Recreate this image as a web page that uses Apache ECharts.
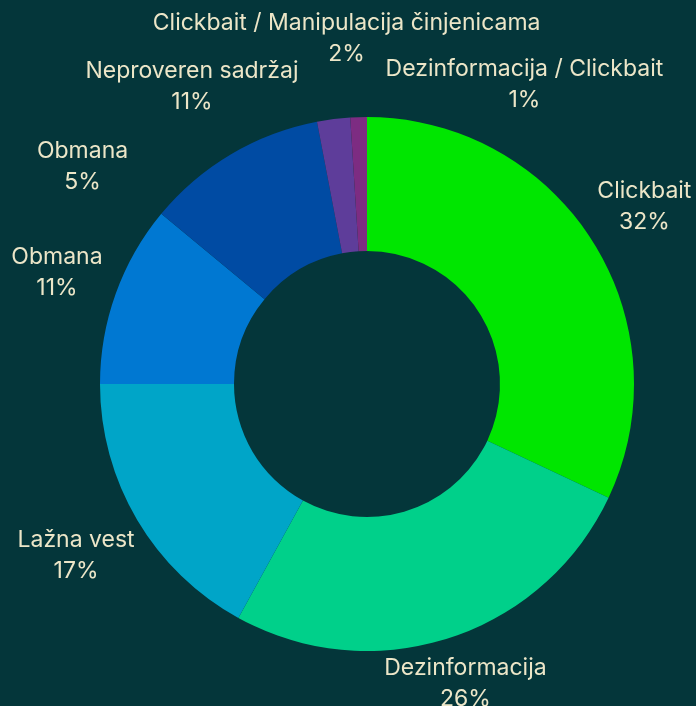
<!DOCTYPE html>
<html>
<head>
<meta charset="utf-8">
<script src="https://cdn.jsdelivr.net/npm/echarts@6/dist/echarts.min.js"></script>
<style>
  html, body { margin: 0; padding: 0; background: #04363a; }
  #chart { width: 696px; height: 706px; }
</style>
</head>
<body>
<div id="chart"></div>
<script>
// Categories, clockwise from 12 o'clock
const categories = [
  "Clickbait",
  "Dezinformacija",
  "Lažna vest",
  "Obmana",
  "Obmana",
  "Neproveren sadržaj",
  "Clickbait / Manipulacija činjenicama",
  "Dezinformacija / Clickbait",
];
// slice sizes (second "Obmana" has no visible slice in the source)
const values = [32, 26, 17, 11, 0, 11, 2, 1];
// percentages printed on the labels
const shownPercents = [32, 26, 17, 11, 5, 11, 2, 1];

const colors = [
  "#00e600", // Clickbait
  "#00d08a", // Dezinformacija
  "#00a5c8", // Lažna vest
  "#0078d2", // Obmana
  "#005fbd", // Obmana (empty)
  "#004ba3", // Neproveren sadržaj
  "#5e3d9a", // Clickbait / Manipulacija
  "#7d2c82", // Dezinformacija / Clickbait
];

// small nudges so labels don't collide
const labelOffsets = {
  0: [-8, 4],
  1: [-6, -22],
  3: [8, 3],
  4: [-24, -2],
  5: [-3, -6],
  6: [22, -10],
  7: [168, 38],
};

const center = [367, 384];

const chart = echarts.init(document.getElementById("chart"), null, { renderer: "canvas" });

const sliceData = categories.map((name, i) => ({
  name: name,
  value: values[i],
  itemStyle: { color: colors[i] },
}));

// invisible ring used only to place labels centred on each slice's mid angle
const labelData = categories.map((name, i) => ({
  name: name,
  value: values[i],
}));

chart.setOption({
  backgroundColor: "#04363a",
  animation: false,
  series: [
    {
      type: "pie",
      center: center,
      radius: [133, 267],
      startAngle: 90,
      clockwise: true,
      avoidLabelOverlap: false,
      label: { show: false },
      labelLine: { show: false },
      itemStyle: { borderWidth: 0 },
      data: sliceData,
    },
    {
      type: "pie",
      center: center,
      radius: [305, 365],
      startAngle: 90,
      clockwise: true,
      avoidLabelOverlap: false,
      minShowLabelAngle: 0,
      silent: true,
      itemStyle: { color: "transparent", borderWidth: 0 },
      labelLine: { show: false },
      label: {
        show: true,
        position: "inside",
        color: "#ece6c8",
        fontFamily: "Inter",
        fontSize: 23,
        lineHeight: 31,
        formatter: (p) => p.name + "\n" + shownPercents[p.dataIndex] + "%",
      },
      labelLayout: (p) => {
        const off = labelOffsets[p.dataIndex] || [0, 0];
        return { dx: off[0], dy: off[1], hideOverlap: false, moveOverlap: null };
      },
      data: labelData,
    },
  ],
});
</script>
</body>
</html>
